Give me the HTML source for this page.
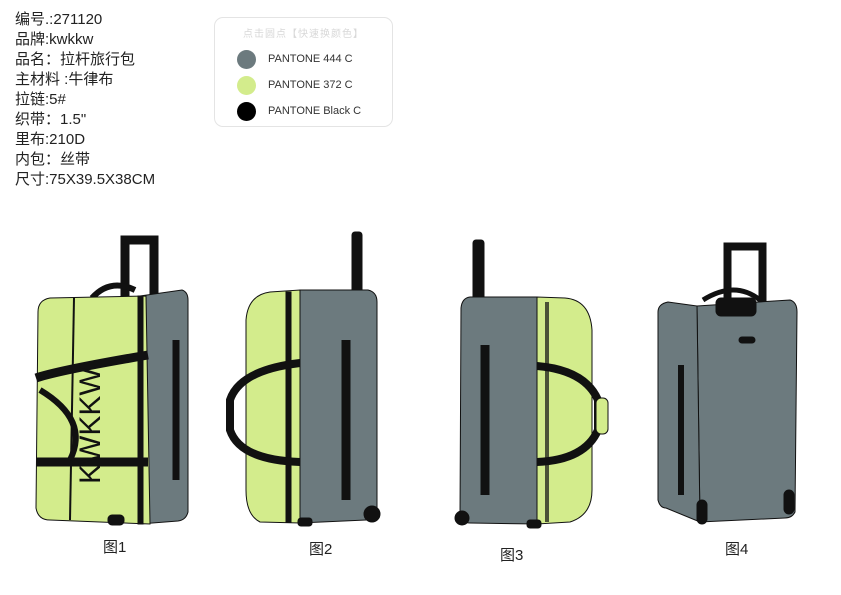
<!DOCTYPE html>
<html><head><meta charset="utf-8"><style>
body{margin:0;background:#fff;width:841px;height:595px;overflow:hidden;font-family:"Liberation Sans","Noto Sans CJK SC",sans-serif;}
.info{position:absolute;left:15px;top:10px;font-size:15px;line-height:20px;color:#222;}
.pal{position:absolute;left:214px;top:17px;width:179px;height:110px;border:1px solid #e4e4e4;border-radius:9px;box-sizing:border-box;}
.pal .t{position:absolute;left:0;width:100%;top:7px;text-align:center;font-size:10px;color:#d8d8d8;letter-spacing:1px}
.pal .r{position:absolute;left:22px;font-size:11px;color:#333;height:20px;line-height:20px}
.pal .r i{display:inline-block;width:19px;height:19px;border-radius:50%;vertical-align:middle;margin-right:12px}
.lab{position:absolute;font-size:15px;color:#222}
svg{position:absolute;left:0;top:0}
</style></head><body>
<div class="info">编号.:271120<br>品牌:kwkkw<br>品名：拉杆旅行包<br>主材料 :牛律布<br>拉链:5#<br>织带：1.5"<br>里布:210D<br>内包：丝带<br>尺寸:75X39.5X38CM</div>
<div class="pal"><div class="t">点击圆点【快速换颜色】</div>
<div class="r" style="top:31px"><i style="background:#6c7a7e"></i>PANTONE 444 C</div>
<div class="r" style="top:57px"><i style="background:#d3ec8c"></i>PANTONE 372 C</div>
<div class="r" style="top:83px"><i style="background:#000"></i>PANTONE Black C</div>
</div>
<svg width="841" height="595" viewBox="0 0 841 595">
<g stroke="#111" stroke-width="1">
<!-- Bag1 -->
<rect x="121" y="236" width="8" height="62" fill="#111"/><rect x="150" y="236" width="8" height="62" fill="#111"/><rect x="121" y="236" width="37" height="8" rx="3" fill="#111"/>
<path d="M92 298 Q110 278 135 290" stroke="#111" stroke-width="6" fill="none"/>
<path d="M140 296 L182 290 Q188 292 188 300 L188 512 Q186 520 178 521 L140 524 Z" fill="#6c7a7e"/>
<path d="M50 298 Q38 300 38 312 L36 508 Q38 520 50 520 L150 524 L146 296 Z" fill="#d3ec8c"/>
<rect x="138" y="296" width="5" height="228" fill="#111"/>
<path d="M74 298 L70 520" stroke-width="2" fill="none"/>
<path d="M176 340 L176 480" stroke-width="7"/>
<path d="M36 378 Q60 370 148 355" stroke-width="9" fill="none"/>
<path d="M36 462 L148 462" stroke-width="9" fill="none"/>
<path d="M40 390 Q90 420 70 460" stroke-width="6" fill="none"/>
<rect x="108" y="515" width="16" height="10" rx="4" fill="#111"/>
</g>
<text transform="translate(100,484) rotate(-90)" font-family="Liberation Sans" font-size="30" fill="#111">KWKKW</text>
<g stroke="#111" stroke-width="1">
<!-- Bag2 -->
<rect x="352" y="232" width="10" height="64" rx="3" fill="#111"/>
<path d="M300 290 L368 290 Q377 292 377 302 L377 514 Q375 520 366 520 L300 523 Z" fill="#6c7a7e"/>
<path d="M300 290 L300 523 L260 522 Q246 515 246 490 L246 320 Q248 295 270 292 Z" fill="#d3ec8c"/>
<rect x="286" y="292" width="5" height="230" fill="#111"/>
<path d="M346 340 L346 500" stroke-width="9"/>
<path d="M300 363 Q240 370 230 400 L230 430 Q240 460 300 462" stroke-width="8" fill="none"/>
<circle cx="372" cy="514" r="8" fill="#111"/>
<rect x="298" y="518" width="14" height="8" rx="3" fill="#111"/>
<!-- Bag3 -->
<rect x="473" y="240" width="11" height="60" rx="3" fill="#111"/>
<path d="M537 297 L470 297 Q462 298 461 308 L460 516 Q462 523 470 523 L537 524 Z" fill="#6c7a7e"/>
<path d="M537 297 L537 524 L570 522 Q592 515 592 490 L592 330 Q590 300 565 298 Z" fill="#d3ec8c"/>
<rect x="545" y="302" width="4" height="220" stroke="none" fill="#111" opacity=".7"/>
<path d="M485 345 L485 495" stroke-width="9"/>
<path d="M537 366 Q585 370 598 400 L598 430 Q585 460 537 462" stroke-width="8" fill="none"/>
<rect x="596" y="398" width="12" height="36" rx="5" fill="#d3ec8c"/>
<circle cx="462" cy="518" r="7" fill="#111"/>
<rect x="527" y="520" width="14" height="8" rx="3" fill="#111"/>
<!-- Bag4 -->
<rect x="724" y="243" width="7" height="60" fill="#111"/><rect x="759" y="243" width="7" height="60" fill="#111"/><rect x="724" y="243" width="42" height="7" rx="3" fill="#111"/>
<path d="M703 300 Q735 280 760 300" stroke-width="5" fill="none"/>
<path d="M697 306 L790 300 Q797 302 797 312 L795 512 Q792 518 785 518 L700 522 Z" fill="#6c7a7e"/>
<path d="M697 306 L668 302 Q658 304 658 312 L658 500 Q660 508 666 508 L700 522 Z" fill="#6c7a7e"/>
<rect x="716" y="298" width="40" height="18" rx="5" fill="#111"/>
<rect x="739" y="337" width="16" height="6" rx="3" fill="#111"/>
<path d="M681 365 L681 495" stroke-width="6"/>
<rect x="697" y="500" width="10" height="24" rx="5" fill="#111"/>
<rect x="784" y="490" width="10" height="24" rx="5" fill="#111"/>
</g>
</svg>
<div class="lab" style="left:103px;top:536px">图1</div>
<div class="lab" style="left:309px;top:538px">图2</div>
<div class="lab" style="left:500px;top:544px">图3</div>
<div class="lab" style="left:725px;top:538px">图4</div>
</body></html>
